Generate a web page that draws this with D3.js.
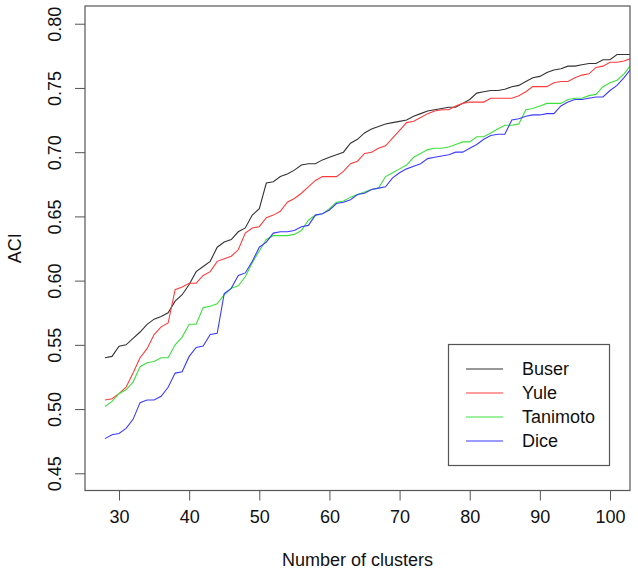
<!DOCTYPE html>
<html>
<head>
<meta charset="utf-8">
<script src="https://cdn.jsdelivr.net/npm/d3@7"></script>
<style>
  body { margin: 0; background: #fff; }
  svg { display: block; font-family: "Liberation Sans", Arial, sans-serif; }
</style>
</head>
<body>
<svg id="chart" width="638" height="574"></svg>
<script>
const clusters = d3.range(28, 104); // 28..103
const buser = [0.540,0.541,0.549,0.550,0.555,0.560,0.566,0.570,0.572,0.575,0.584,0.589,0.597,0.607,0.611,0.615,0.626,0.630,0.632,0.638,0.641,0.651,0.656,0.676,0.677,0.681,0.683,0.686,0.690,0.691,0.691,0.694,0.696,0.698,0.700,0.707,0.710,0.715,0.718,0.720,0.722,0.723,0.724,0.725,0.728,0.730,0.732,0.733,0.734,0.735,0.735,0.738,0.741,0.746,0.747,0.748,0.748,0.749,0.751,0.752,0.755,0.758,0.759,0.762,0.764,0.765,0.767,0.767,0.768,0.769,0.769,0.772,0.772,0.776,0.776,0.776];
const yule = [0.507,0.508,0.512,0.517,0.528,0.540,0.547,0.558,0.564,0.567,0.593,0.595,0.598,0.598,0.604,0.607,0.615,0.617,0.619,0.624,0.637,0.641,0.642,0.649,0.651,0.654,0.661,0.664,0.668,0.673,0.678,0.681,0.681,0.681,0.685,0.691,0.693,0.699,0.700,0.703,0.705,0.711,0.717,0.723,0.724,0.727,0.730,0.732,0.733,0.733,0.736,0.738,0.739,0.739,0.739,0.742,0.742,0.742,0.742,0.744,0.747,0.751,0.751,0.751,0.754,0.755,0.755,0.758,0.760,0.761,0.766,0.767,0.770,0.770,0.771,0.773];
const tanimoto = [0.502,0.506,0.512,0.515,0.521,0.533,0.536,0.537,0.540,0.540,0.550,0.556,0.566,0.566,0.579,0.580,0.582,0.589,0.594,0.596,0.603,0.614,0.623,0.632,0.635,0.635,0.635,0.636,0.639,0.647,0.651,0.652,0.656,0.661,0.662,0.665,0.667,0.669,0.671,0.672,0.681,0.684,0.687,0.690,0.696,0.699,0.702,0.703,0.703,0.704,0.706,0.708,0.708,0.712,0.712,0.715,0.718,0.721,0.721,0.722,0.733,0.734,0.736,0.738,0.738,0.738,0.741,0.742,0.742,0.744,0.745,0.751,0.754,0.756,0.761,0.768];
const dice = [0.477,0.480,0.481,0.485,0.492,0.505,0.507,0.507,0.510,0.517,0.528,0.529,0.541,0.548,0.549,0.558,0.559,0.590,0.594,0.604,0.606,0.615,0.626,0.630,0.637,0.638,0.638,0.639,0.642,0.643,0.651,0.652,0.655,0.660,0.661,0.663,0.667,0.668,0.671,0.672,0.673,0.680,0.684,0.687,0.689,0.691,0.695,0.696,0.697,0.698,0.700,0.700,0.703,0.706,0.710,0.713,0.714,0.714,0.725,0.726,0.728,0.729,0.729,0.730,0.730,0.736,0.739,0.741,0.741,0.742,0.743,0.743,0.748,0.752,0.758,0.765];

const seriesNames = ["Buser", "Yule", "Tanimoto", "Dice"];
const seriesValues = [buser, yule, tanimoto, dice];
const seriesColors = ["#333333", "#ff3b3b", "#3ee03e", "#3b3bff"];
const xTicks = [30, 40, 50, 60, 70, 80, 90, 100];
const yTicks = [0.45, 0.50, 0.55, 0.60, 0.65, 0.70, 0.75, 0.80];

const svg = d3.select("#chart");
const pL = 85, pR = 630, pT = 6, pB = 490.5;

const x = d3.scaleLinear().domain([25.15, 102.85]).range([pL, pR]);
const y = d3.scaleLinear().domain([0.4366, 0.8138]).range([pB, pT]);

svg.append("defs").append("clipPath").attr("id", "clip")
  .append("rect").attr("x", pL).attr("y", pT).attr("width", pR - pL).attr("height", pB - pT);

// lines
const line = d3.line().x((d, i) => x(clusters[i])).y(d => y(d));
const g = svg.append("g").attr("clip-path", "url(#clip)");
seriesValues.forEach((vals, k) => {
  g.append("path").datum(vals)
    .attr("fill", "none")
    .attr("stroke", seriesColors[k])
    .attr("stroke-width", 1.1)
    .attr("d", line);
});

// axes
const xAxis = svg.append("g").attr("transform", `translate(0,${pB})`)
  .call(d3.axisBottom(x).tickValues(xTicks).tickSize(10).tickPadding(10).tickFormat(d3.format("d")));
const yAxis = svg.append("g").attr("transform", `translate(${pL},0)`)
  .call(d3.axisLeft(y).tickValues(yTicks).tickSize(10).tickFormat(d3.format(".2f")));

[xAxis, yAxis].forEach(a => {
  a.select(".domain").remove();
  a.selectAll(".tick line").attr("stroke", "#555").attr("stroke-width", 1);
  a.selectAll(".tick text").attr("fill", "#111").style("font-size", "18px")
    .style("font-family", "'Liberation Sans', Arial, sans-serif");
});
xAxis.selectAll(".tick text").attr("dy", "0.71em");
yAxis.selectAll(".tick text")
  .attr("x", null)
  .attr("text-anchor", "middle")
  .attr("transform", "translate(-30,0) rotate(-90)")
  .attr("dy", "0.35em");

// box
svg.append("rect").attr("x", pL).attr("y", pT).attr("width", pR - pL).attr("height", pB - pT)
  .attr("fill", "none").attr("stroke", "#555").attr("stroke-width", 1.2);

// axis titles
svg.append("text").attr("x", (pL + pR) / 2).attr("y", 566)
  .attr("text-anchor", "middle").attr("fill", "#111").style("font-size", "18px")
  .text("Number of clusters");
svg.append("text").attr("transform", `translate(21,${(pT + pB) / 2}) rotate(-90)`)
  .attr("text-anchor", "middle").attr("fill", "#111").style("font-size", "18px")
  .text("ACI");

// legend
const lg = svg.append("g");
lg.append("rect").attr("x", 448.5).attr("y", 344.5).attr("width", 161).attr("height", 121)
  .attr("fill", "#fff").attr("stroke", "#555").attr("stroke-width", 1.2);
seriesNames.forEach((name, k) => {
  const yy = 369 + k * 24;
  lg.append("line").attr("x1", 466).attr("x2", 503).attr("y1", yy).attr("y2", yy)
    .attr("stroke", seriesColors[k]).attr("stroke-width", 1.1);
  lg.append("text").attr("x", 522).attr("y", yy).attr("dy", "0.35em")
    .attr("fill", "#111").style("font-size", "18px").text(name);
});
</script>
</body>
</html>
